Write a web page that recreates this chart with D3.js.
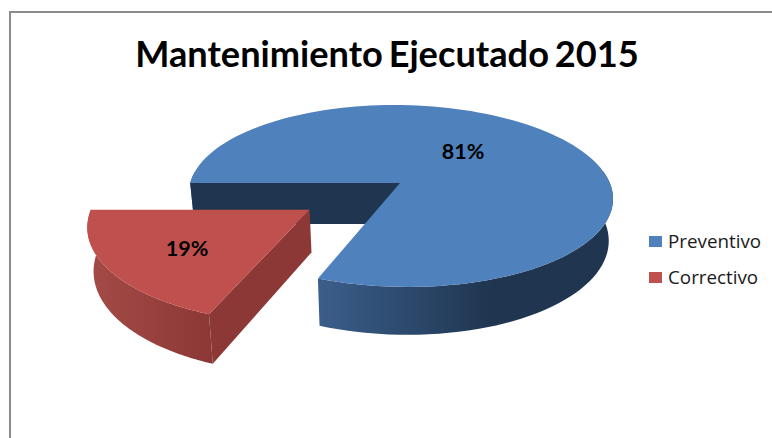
<!DOCTYPE html>
<html>
<head>
<meta charset="utf-8">
<script src="https://cdn.jsdelivr.net/npm/d3@7/dist/d3.min.js"></script>
<style>
html,body{margin:0;padding:0;background:#fff;overflow:hidden}
svg{display:block}
</style>
</head>
<body>
<svg id="chart" width="772" height="438"></svg>
<script>
// Chart content
const chartTitle = "Mantenimiento Ejecutado 2015";
const categories = ["Preventivo", "Correctivo"];
const shares = [81, 19];
const topColors = ["#4F81BD", "#C0504D"];
const rimColors = [["#3B5E8A", "#1F3550"], ["#A54B47", "#8C3836"]];
const cutColors = ["#1F3550", "#8C3836"];

// Tilted-disc camera: plane (u, v) in disc radii, v grows toward the viewer
const originX = 400, originY = 183, scaleU = 209.8, scaleV = 89.1, tilt = 0.1429, shear = 6.5;
const depth = 41, floorShrink = 0.98, explodeDistance = 0.51;

function project(u, v, lowered) {
  const w = 1 - tilt * v;
  let x = originX + (scaleU * u + shear * v) / w;
  let y = originY + scaleV * v / w;
  if (lowered) {
    x = originX + (x - originX) * floorShrink;
    y += depth / w;
  }
  return [x, y];
}

const svg = d3.select("#chart");
const defs = svg.append("defs");
const pathOf = d3.line();

// Slices start at the left of the disc and run clockwise
const slices = d3.pie().sort(null).startAngle(-Math.PI / 2).endAngle(1.5 * Math.PI)(shares);

function sliceGeometry(s) {
  const mid = (s.startAngle + s.endAngle) / 2;
  const off = s.index === 1 ? explodeDistance : 0;
  const du = off * Math.sin(mid), dv = -off * Math.cos(mid);
  const rim = (a, lowered) => project(du + Math.sin(a), dv - Math.cos(a), lowered);
  const hub = lowered => project(du, dv, lowered);
  const steps = d3.range(0, 121).map(i => s.startAngle + (s.endAngle - s.startAngle) * i / 120);
  return { rim, hub, steps };
}

// Rim shading runs along x
slices.forEach((s, i) => {
  const g = sliceGeometry(s);
  const xs = g.steps.map(a => g.rim(a, false)[0]);
  const grad = defs.append("linearGradient")
    .attr("id", "rim" + i).attr("gradientUnits", "userSpaceOnUse")
    .attr("x1", i === 0 ? g.rim(s.endAngle, false)[0] : d3.min(xs))
    .attr("x2", i === 0 ? g.rim(s.endAngle, false)[0] + 175 : g.rim(s.startAngle, false)[0])
    .attr("y1", 0).attr("y2", 0);
  grad.append("stop").attr("offset", 0).attr("stop-color", rimColors[i][0]);
  grad.append("stop").attr("offset", 1).attr("stop-color", rimColors[i][1]);
});

// Chart frame, open on the right and at the bottom
svg.append("path")
  .attr("d", pathOf([[10, 438], [10, 12], [772, 12]]))
  .attr("fill", "none").attr("stroke", "#8c8c8c").attr("stroke-width", 2);

const pies = svg.append("g");

slices.forEach((s, i) => {
  const g = sliceGeometry(s);
  const group = pies.append("g").attr("class", "slice");

  // Outer wall: only the part facing the viewer
  const front = g.steps.filter(a => Math.cos(a) < 0.16);
  const wall = front.map(a => g.rim(a, false)).concat(front.slice().reverse().map(a => g.rim(a, true)));
  group.append("path").attr("d", pathOf(wall) + "Z").attr("fill", `url(#rim${i})`);

  // Cut wall facing the viewer
  const cut = [g.hub(false), g.rim(s.startAngle, false), g.rim(s.startAngle, true), g.hub(true)];
  group.append("path").attr("d", pathOf(cut) + "Z").attr("fill", cutColors[i]);

  // Top face
  const face = [g.hub(false)].concat(g.steps.map(a => g.rim(a, false)));
  group.append("path").attr("d", pathOf(face) + "Z").attr("fill", topColors[i]);
});

// Title
svg.append("text")
  .attr("x", 387).attr("y", 67).attr("text-anchor", "middle")
  .attr("font-family", "Lato, Carlito, sans-serif").attr("font-weight", 700)
  .attr("font-size", 36.2).attr("word-spacing", -3).attr("fill", "#000")
  .text(chartTitle);

// Percentage labels
const labelSpots = [[463, 159], [187, 256]];
slices.forEach((s, i) => {
  svg.append("text")
    .attr("x", labelSpots[i][0]).attr("y", labelSpots[i][1]).attr("text-anchor", "middle")
    .attr("font-family", "Lato, sans-serif").attr("font-weight", 700)
    .attr("font-size", 21.5).attr("fill", "#000")
    .text(shares[i] + "%");
});

// Legend
const legendY = d3.scalePoint().domain(categories).range([241.5, 277.5]);
const legend = svg.append("g").selectAll("g").data(categories).join("g")
  .attr("transform", d => `translate(649,${legendY(d)})`);
legend.append("rect")
  .attr("x", 0).attr("y", -5.5).attr("width", 13).attr("height", 11)
  .attr("fill", (d, i) => topColors[i]);
legend.append("text")
  .attr("x", 19).attr("y", 6.5)
  .attr("font-family", "'Open Sans', sans-serif").attr("font-size", 18.8).attr("fill", "#1a1a1a")
  .text(d => d);
</script>
</body>
</html>
